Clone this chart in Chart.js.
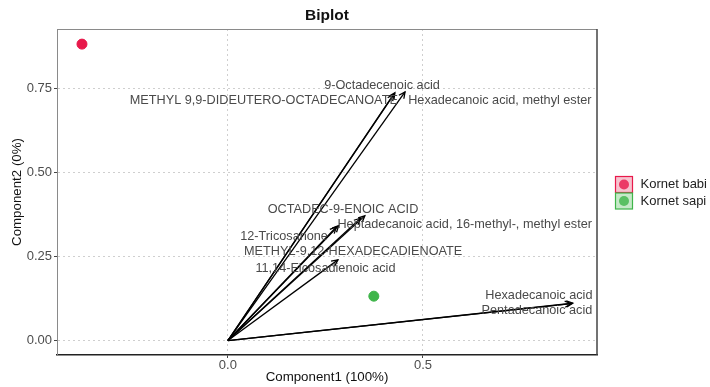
<!DOCTYPE html>
<html>
<head>
<meta charset="utf-8">
<script src="https://cdn.jsdelivr.net/npm/chart.js@4.4.1/dist/chart.umd.min.js"></script>
<style>
  html, body { margin: 0; padding: 0; background: #fff; }
  #wrap { width: 710px; height: 387px; }
</style>
</head>
<body>
<div id="wrap"><canvas id="biplot"></canvas></div>
<script>
// scores (one point per group)
const groups = ['Kornet babi', 'Kornet sapi']
const scoreX = [-0.374, 0.374]
const scoreY = [0.882, 0.132]
const groupColors = ['#e8194b', '#3fb54a']
const groupFills = ['#f6c3cf', '#c6e9c8']

// loadings (arrows from origin)
const loadNames = [
    '9-Octadecenoic acid',
    'METHYL 9,9-DIDEUTERO-OCTADECANOATE',
    'Hexadecanoic acid, methyl ester',
    'OCTADEC-9-ENOIC ACID',
    'Heptadecanoic acid, 16-methyl-, methyl ester',
    '12-Tricosanone',
    'METHYL-9,12-HEXADECADIENOATE',
    '11,14-Eicosadienoic acid',
    'Hexadecanoic acid',
    'Pentadecanoic acid'
]
const loadX = [0.428, 0.425, 0.454, 0.351, 0.340, 0.278, 0.284, 0.282, 0.884, 0.880]
const loadY = [0.737, 0.733, 0.740, 0.371, 0.364, 0.338, 0.342, 0.240, 0.111, 0.110]
// where the text labels sit (data units, label centre)
const labelX = [0.395, 0.092, 0.697, 0.295, 0.607, 0.144, 0.321, 0.250, 0.797, 0.792]
const labelY = [0.760, 0.713, 0.713, 0.391, 0.344, 0.311, 0.264, 0.213, 0.135, 0.088]

// axis ticks
const xTicks = [0.0, 0.5]
const yTicks = [0.00, 0.25, 0.50, 0.75]

const FONT = '"Liberation Sans", Arial, sans-serif'

const datasets = []
groups.forEach((g, i) => {
    datasets.push({
        type: 'scatter',
        label: g,
        data: [{ x: scoreX[i], y: scoreY[i] }],
        backgroundColor: groupColors[i],
        borderColor: groupColors[i],
        pointRadius: 5,
        order: 0
    })
})
loadNames.forEach((n, i) => {
    datasets.push({
        type: 'line',
        label: n,
        data: [{ x: 0, y: 0 }, { x: loadX[i], y: loadY[i] }],
        borderColor: '#000',
        borderWidth: 1.3,
        pointRadius: 0,
        fill: false,
        order: 1
    })
})

const extras = {
    id: 'extras',
    beforeDraw: (chart) => {
        const ctx = chart.ctx
        ctx.save()
        ctx.fillStyle = '#fff'
        ctx.fillRect(0, 0, chart.width, chart.height)
        ctx.restore()
    },
    afterDatasetsDraw: (chart) => {
        const ctx = chart.ctx
        const xs = chart.scales.x, ys = chart.scales.y
        const area = chart.chartArea
        ctx.save()

        // arrow heads
        ctx.strokeStyle = '#000'
        ctx.lineWidth = 1.3
        const x0 = xs.getPixelForValue(0), y0 = ys.getPixelForValue(0)
        for (let i = 0; i < loadNames.length; i++) {
            const x1 = xs.getPixelForValue(loadX[i]), y1 = ys.getPixelForValue(loadY[i])
            const a = Math.atan2(y1 - y0, x1 - x0)
            const len = 7, sp = 0.45
            ctx.beginPath()
            ctx.moveTo(x1 - len * Math.cos(a - sp), y1 - len * Math.sin(a - sp))
            ctx.lineTo(x1, y1)
            ctx.lineTo(x1 - len * Math.cos(a + sp), y1 - len * Math.sin(a + sp))
            ctx.stroke()
        }

        // labels
        ctx.font = '12.7px ' + FONT
        ctx.fillStyle = '#4a4a4a'
        ctx.textAlign = 'center'
        ctx.textBaseline = 'middle'
        for (let i = 0; i < loadNames.length; i++) {
            ctx.fillText(loadNames[i], xs.getPixelForValue(labelX[i]), ys.getPixelForValue(labelY[i]))
        }

        // panel border (top / right)
        ctx.strokeStyle = '#8a8a8a'
        ctx.lineWidth = 1
        ctx.beginPath()
        ctx.moveTo(area.left, area.top + 0.5)
        ctx.lineTo(area.right, area.top + 0.5)
        ctx.stroke()
        ctx.strokeStyle = '#444'
        ctx.lineWidth = 1.5
        ctx.beginPath()
        ctx.moveTo(area.right, area.top)
        ctx.lineTo(area.right, area.bottom)
        ctx.stroke()

        // title
        ctx.fillStyle = '#111'
        ctx.font = 'bold 15.5px ' + FONT
        ctx.fillText('Biplot', (area.left + area.right) / 2, 16)

        // legend
        ctx.font = '13px ' + FONT
        ctx.textAlign = 'left'
        groups.forEach((g, i) => {
            const lx = area.right + 18.5
            const ly = 176.5 + i * 16.5
            ctx.fillStyle = groupFills[i]
            ctx.fillRect(lx, ly, 17, 16)
            ctx.strokeStyle = groupColors[i]
            ctx.lineWidth = 1.2
            ctx.strokeRect(lx, ly, 17, 16)
            ctx.fillStyle = groupColors[i]
            ctx.globalAlpha = 0.8
            ctx.beginPath()
            ctx.arc(lx + 8.5, ly + 8, 5, 0, Math.PI * 2)
            ctx.fill()
            ctx.globalAlpha = 1
            ctx.fillStyle = '#222'
            ctx.fillText(g, lx + 25, ly + 8)
        })
        ctx.restore()
    }
}

new Chart(document.getElementById('biplot'), {
    data: { datasets: datasets },
    options: {
        responsive: true,
        maintainAspectRatio: false,
        animation: false,
        devicePixelRatio: 1,
        layout: { padding: { top: 29, right: 113, left: 0, bottom: 0 } },
        plugins: {
            legend: { display: false },
            tooltip: { enabled: false }
        },
        scales: {
            x: {
                type: 'linear',
                min: -0.438,
                max: 0.946,
                afterBuildTicks: (s) => { s.ticks = xTicks.map(v => ({ value: v })) },
                afterFit: (s) => { s.height = 32 },
                ticks: {
                    callback: (v) => Number(v).toFixed(1),
                    color: '#4d4d4d',
                    font: { size: 13, family: FONT },
                    padding: 0,
                    maxRotation: 0
                },
                grid: { color: '#cfcfcf', lineWidth: 1, tickLength: 3, tickColor: '#444', tickBorderDash: [] },
                border: { display: true, color: '#222', width: 1.5, dash: [2, 3] },
                title: {
                    display: true,
                    text: 'Component1 (100%)',
                    color: '#111',
                    font: { size: 13.3, family: FONT },
                    padding: { top: 0, bottom: 2 }
                }
            },
            y: {
                type: 'linear',
                min: -0.043,
                max: 0.927,
                afterBuildTicks: (s) => { s.ticks = yTicks.map(v => ({ value: v })) },
                afterFit: (s) => { s.width = 57 },
                ticks: {
                    callback: (v) => Number(v).toFixed(2),
                    color: '#4d4d4d',
                    font: { size: 13, family: FONT },
                    padding: 2
                },
                grid: { color: '#cfcfcf', lineWidth: 1, tickLength: 3, tickColor: '#444', tickBorderDash: [] },
                border: { display: true, color: '#8a8a8a', width: 1, dash: [2, 3] },
                title: {
                    display: true,
                    text: 'Component2 (0%)',
                    color: '#111',
                    font: { size: 13.3, family: FONT },
                    padding: { top: 9, bottom: 0 }
                }
            }
        }
    },
    plugins: [extras]
})
</script>
</body>
</html>
